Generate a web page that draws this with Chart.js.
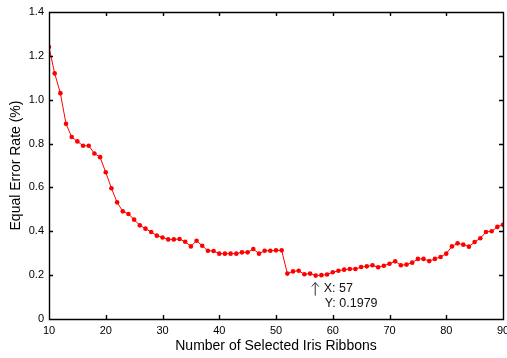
<!DOCTYPE html>
<html lang="en">
<head>
    <meta charset="UTF-8">
    <title>Equal Error Rate vs Iris Ribbons</title>
    <script src="https://cdn.jsdelivr.net/npm/chart.js"></script>
    <style>
        html, body { margin: 0; padding: 0; background: #fff; }
        #wrap { position: relative; width: 507px; height: 358px; }
    </style>
</head>
<body>
    <div id="wrap"><canvas id="eerChart"></canvas></div>

    <script>
        // number of selected iris ribbons
        const ribbons = [10, 11, 12, 13, 14, 15, 16, 17, 18, 19,
            20, 21, 22, 23, 24, 25, 26, 27, 28, 29,
            30, 31, 32, 33, 34, 35, 36, 37, 38, 39,
            40, 41, 42, 43, 44, 45, 46, 47, 48, 49,
            50, 51, 52, 53, 54, 55, 56, 57, 58, 59,
            60, 61, 62, 63, 64, 65, 66, 67, 68, 69,
            70, 71, 72, 73, 74, 75, 76, 77, 78, 79,
            80, 81, 82, 83, 84, 85, 86, 87, 88, 89, 90];
        // equal error rate (%)
        const eer = [1.24, 1.12, 1.03, 0.89, 0.83, 0.81, 0.79, 0.79, 0.755, 0.738,
            0.669, 0.596, 0.532, 0.491, 0.479, 0.453, 0.427, 0.412, 0.397, 0.38,
            0.372, 0.363, 0.363, 0.365, 0.352, 0.331, 0.357, 0.334, 0.311, 0.31,
            0.298, 0.298, 0.298, 0.298, 0.304, 0.304, 0.319, 0.298, 0.311, 0.311,
            0.313, 0.313, 0.207, 0.217, 0.22, 0.204, 0.207, 0.1979, 0.2, 0.203,
            0.213, 0.22, 0.225, 0.228, 0.228, 0.237, 0.24, 0.245, 0.236, 0.243,
            0.252, 0.263, 0.245, 0.248, 0.257, 0.274, 0.274, 0.264, 0.274, 0.283,
            0.298, 0.331, 0.345, 0.339, 0.33, 0.351, 0.368, 0.397, 0.4, 0.42, 0.43];
        const xTicks = [10, 20, 30, 40, 50, 60, 70, 80, 90];
        const yTicks = [0, 0.2, 0.4, 0.6, 0.8, 1, 1.2, 1.4];
        const tipX = 57;

        const FONT = 'Liberation Sans, Arial, Helvetica, sans-serif';

        // matlab style box with ticks pointing inward, plus the data tip
        const boxPlugin = {
            id: 'box',
            afterDraw(chart) {
                const c = chart.ctx;
                const a = chart.chartArea;
                const xs = chart.scales.x, ys = chart.scales.y;
                c.save();
                c.strokeStyle = '#000';
                c.lineWidth = 1.4;
                c.beginPath();
                c.rect(Math.round(a.left) + 0.5, Math.round(a.top) + 0.5,
                    Math.round(a.right - a.left), Math.round(a.bottom - a.top));
                xTicks.forEach(v => {
                    const px = Math.round(xs.getPixelForValue(v)) + 0.5;
                    c.moveTo(px, a.bottom); c.lineTo(px, a.bottom - 4);
                    c.moveTo(px, a.top); c.lineTo(px, a.top + 4);
                });
                yTicks.forEach(v => {
                    const py = Math.round(ys.getPixelForValue(v)) + 0.5;
                    c.moveTo(a.left, py); c.lineTo(a.left + 4, py);
                    c.moveTo(a.right, py); c.lineTo(a.right - 4, py);
                });
                c.stroke();

                // data tip
                const i = ribbons.indexOf(tipX);
                const px = xs.getPixelForValue(ribbons[i]);
                const py = ys.getPixelForValue(eer[i]);
                c.strokeStyle = '#333';
                c.lineWidth = 1;
                c.beginPath();
                c.moveTo(px - 0.5, py + 7); c.lineTo(px - 0.5, py + 20);
                c.moveTo(px - 4, py + 11); c.lineTo(px - 0.5, py + 7); c.lineTo(px + 3, py + 11);
                c.stroke();
                c.fillStyle = '#111';
                c.font = '12.5px ' + FONT;
                c.textBaseline = 'middle';
                c.textAlign = 'left';
                c.fillText('X: ' + tipX, px + 8, py + 13);
                c.fillText('Y: ' + eer[i], px + 9, py + 28);
                c.restore();
            }
        };

        new Chart(document.getElementById('eerChart'), {
            type: 'line',
            data: {
                datasets: [{
                    data: ribbons.map((x, i) => ({ x: x, y: eer[i] })),
                    borderColor: '#ff0000',
                    backgroundColor: '#ff0000',
                    borderWidth: 1,
                    pointRadius: 2.3,
                    pointBorderWidth: 0,
                    tension: 0
                }]
            },
            options: {
                responsive: true,
                maintainAspectRatio: false,
                animation: false,
                layout: { padding: { left: 0, right: 0, top: 12, bottom: 0 } },
                plugins: {
                    legend: { display: false },
                    tooltip: { enabled: false }
                },
                scales: {
                    x: {
                        type: 'linear',
                        min: 10,
                        max: 90,
                        afterBuildTicks: s => { s.ticks = xTicks.map(v => ({ value: v })); },
                        afterFit: s => { s.paddingLeft = 0; s.paddingRight = 3; s.height = 39; },
                        grid: { display: false, drawTicks: false },
                        border: { display: false },
                        ticks: { color: '#000', padding: 5, maxRotation: 0, font: { family: FONT, size: 11 } },
                        title: {
                            display: true,
                            text: 'Number of Selected Iris Ribbons',
                            color: '#000',
                            padding: { top: 2, bottom: 3 },
                            font: { family: FONT, size: 14 }
                        }
                    },
                    y: {
                        min: 0,
                        max: 1.4,
                        afterBuildTicks: s => { s.ticks = yTicks.map(v => ({ value: v })); },
                        afterFit: s => { s.paddingTop = 0; s.paddingBottom = 0; s.width = 49; },
                        grid: { display: false, drawTicks: false },
                        border: { display: false },
                        ticks: { color: '#000', padding: 5, font: { family: FONT, size: 11 } },
                        title: {
                            display: true,
                            text: 'Equal Error Rate (%)',
                            color: '#000',
                            padding: { top: 8, bottom: 0 },
                            font: { family: FONT, size: 14 }
                        }
                    }
                }
            },
            plugins: [boxPlugin]
        });
    </script>
</body>
</html>
